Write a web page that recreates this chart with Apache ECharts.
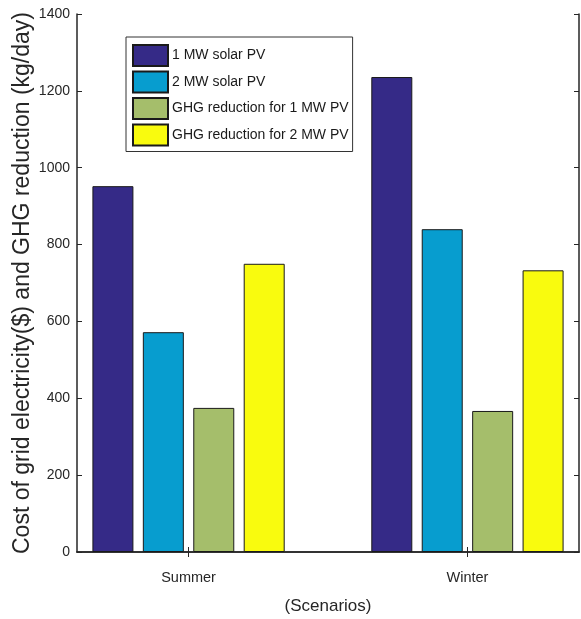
<!DOCTYPE html>
<html>
<head>
<meta charset="utf-8">
<script src="https://cdn.jsdelivr.net/npm/echarts@6/dist/echarts.min.js"></script>
<style>
  html, body { margin: 0; padding: 0; background: #fff; }
  #container { width: 581px; height: 619px; }
</style>
</head>
<body>
<div id="container"></div>
<script>
// scenarios on the x axis (placed at 1 and 2 like the original plot)
var scenarios = ['Summer', 'Winter'];
var seriesNames = ['1 MW solar PV', '2 MW solar PV', 'GHG reduction for 1 MW PV', 'GHG reduction for 2 MW PV'];
var pv1 = [952, 1236];
var pv2 = [572, 840];
var ghg1 = [375, 367];
var ghg2 = [750, 733];
var colors = ['#352a87', '#079dcf', '#a5be6b', '#f9fb0e'];

var dom = document.getElementById('container');
var myChart = echarts.init(dom);
var font = 'Liberation Sans, Arial, sans-serif';
var axisColor = '#262626';

function toPairs(arr) {
    return arr.map(function (v, i) { return [i + 1, v]; });
}

var allData = [pv1, pv2, ghg1, ghg2];
var series = allData.map(function (d, i) {
    return {
        name: seriesNames[i],
        type: 'bar',
        barWidth: 41,
        barGap: '23%',
        data: toPairs(d),
        itemStyle: { color: colors[i], borderColor: '#1a1a1a', borderWidth: 1 }
    };
});

var option = {
    animation: false,
    textStyle: { fontFamily: font },
    grid: { left: 77, top: 14, right: 2, bottom: 67, outerBoundsMode: 'none' },
    legend: {
        orient: 'vertical',
        left: 126,
        top: 37,
        backgroundColor: '#fff',
        borderColor: '#333',
        borderWidth: 1,
        padding: [7, 4, 5, 6],
        itemWidth: 35,
        itemHeight: 21,
        itemGap: 3.5,
        icon: 'rect',
        textStyle: { fontSize: 14, color: '#1a1a1a', fontFamily: font, padding: [0, 0, 0, -1] },
        data: seriesNames
    },
    xAxis: [{
        type: 'value',
        min: 0.6,
        max: 2.4,
        name: '(Scenarios)',
        nameLocation: 'middle',
        nameGap: 46,
        nameMoveOverlap: false,
        nameTextStyle: { fontSize: 17, color: axisColor, fontFamily: font },
        splitLine: { show: false },
        axisLine: { lineStyle: { color: axisColor, width: 1.5 } },
        axisTick: { inside: true, length: 5, customValues: [1, 2], lineStyle: { color: axisColor } },
        axisLabel: {
            customValues: [1, 2],
            margin: 18,
            fontSize: 14.5,
            color: axisColor,
            formatter: function (v) { return scenarios[Math.round(v) - 1] || ''; }
        }
    }, {
        type: 'value',
        position: 'top',
        min: 0.6,
        max: 2.4,
        splitLine: { show: false },
        axisLine: { show: true, lineStyle: { color: axisColor, width: 1.5 } },
        axisTick: { inside: true, length: 5, customValues: [1, 2], lineStyle: { color: axisColor } },
        axisLabel: { show: false }
    }],
    yAxis: [{
        type: 'value',
        min: 0,
        max: 1400,
        interval: 200,
        name: 'Cost of grid electricity($) and GHG reduction (kg/day)',
        nameLocation: 'middle',
        nameGap: 43,
        nameMoveOverlap: false,
        nameTextStyle: { fontSize: 23, color: axisColor, fontFamily: font },
        splitLine: { show: false },
        axisLine: { show: true, lineStyle: { color: axisColor, width: 1.5 } },
        axisTick: { inside: true, length: 5, lineStyle: { color: axisColor } },
        axisLabel: { margin: 7, fontSize: 14, color: axisColor, formatter: function (v) { return String(v); } }
    }, {
        type: 'value',
        position: 'right',
        min: 0,
        max: 1400,
        interval: 200,
        splitLine: { show: false },
        axisLine: { show: true, lineStyle: { color: axisColor, width: 1.5 } },
        axisTick: { inside: true, length: 5, lineStyle: { color: axisColor } },
        axisLabel: { show: false }
    }],
    series: series
};

myChart.setOption(option);
</script>
</body>
</html>
